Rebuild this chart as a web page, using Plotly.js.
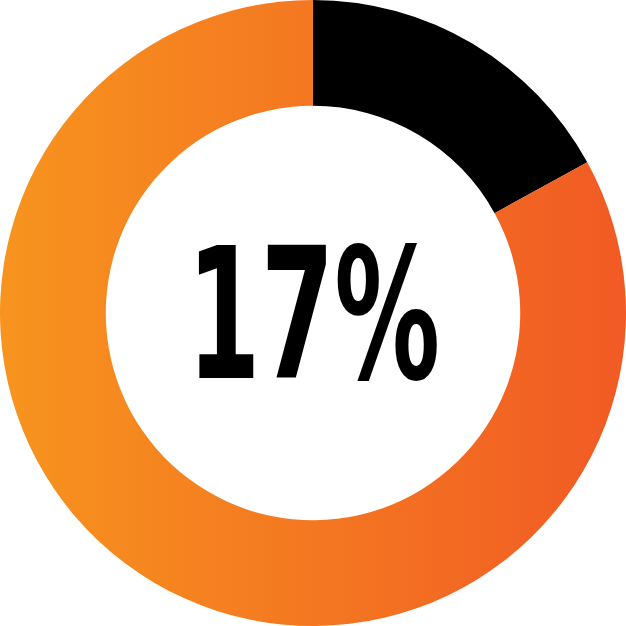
<!DOCTYPE html>
<html>
<head>
<meta charset="utf-8">
<script src="https://cdn.plot.ly/plotly-3.0.1.min.js"></script>
<style>
  html, body { margin: 0; padding: 0; background: #fff; }
  #plot { width: 626px; height: 626px; }
</style>
</head>
<body>
<div id="plot"></div>
<script>
// share shown by the ring
var labels = ['done', 'rest'];
var values = [17, 83];
var centerText = '17%';

var gradLeft = '#F7941E';
var gradRight = '#F15A24';

var data = [{
  type: 'pie',
  labels: labels,
  values: values,
  hole: 0.662,
  sort: false,
  direction: 'clockwise',
  rotation: 0,
  textinfo: 'none',
  hoverinfo: 'skip',
  marker: { colors: ['#000000', '#F47A21'], line: { width: 0 } },
  domain: { x: [0, 1], y: [0, 1] }
}];

var layout = {
  width: 626,
  height: 626,
  margin: { l: 0, r: 0, t: 0, b: 0 },
  paper_bgcolor: '#ffffff',
  showlegend: false,
  annotations: [{
    text: centerText,
    x: 0.5, y: 0.5, xref: 'paper', yref: 'paper',
    xanchor: 'center', yanchor: 'middle',
    showarrow: false,
    yshift: -2,
    font: { family: 'DejaVu Sans, sans-serif', size: 181, weight: 'bold', color: '#000' }
  }]
};

Plotly.newPlot('plot', data, layout, { staticPlot: true }).then(function (gd) {
  // plotly pies have no gradient fill, so add one to the svg
  var svg = gd.querySelector('svg.main-svg');
  var ns = 'http://www.w3.org/2000/svg';
  var defs = svg.querySelector('defs') || svg.insertBefore(document.createElementNS(ns, 'defs'), svg.firstChild);
  var g = document.createElementNS(ns, 'linearGradient');
  g.setAttribute('id', 'ringGrad');
  g.setAttribute('x1', '0'); g.setAttribute('x2', '1');
  g.setAttribute('y1', '0'); g.setAttribute('y2', '0');
  [[0, gradLeft], [1, gradRight]].forEach(function (s) {
    var st = document.createElementNS(ns, 'stop');
    st.setAttribute('offset', s[0]);
    st.setAttribute('stop-color', s[1]);
    g.appendChild(st);
  });
  defs.appendChild(g);
  var paths = gd.querySelectorAll('.slice path.surface');
  if (paths[1]) paths[1].style.fill = 'url(#ringGrad)';

  // squeeze the label to look like a condensed face
  var t = gd.querySelector('.annotation-text');
  if (t) {
    t.style.transformBox = 'fill-box';
    t.style.transformOrigin = 'center';
    t.style.transform = 'scaleX(0.584)';
  }
});
</script>
</body>
</html>
